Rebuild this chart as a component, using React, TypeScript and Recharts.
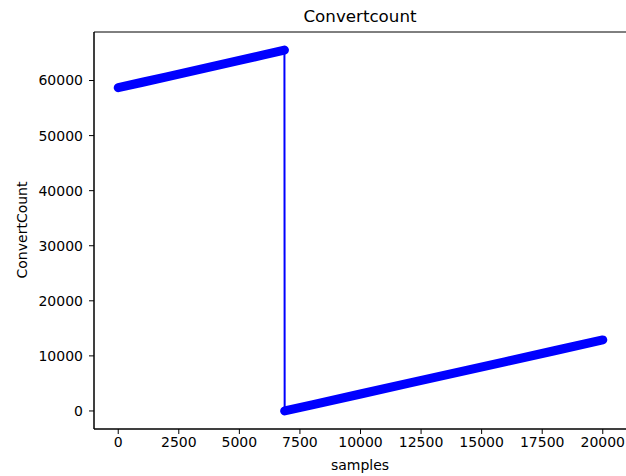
import React from "react";
import { LineChart, Line, XAxis, YAxis, ReferenceArea } from "recharts";

// counter readout: rises to 65535, wraps to 0, keeps counting
const seg1Samples = [0, 1000, 2000, 3000, 4000, 5000, 6000, 6860];
const seg1Counts = [58700, 59690, 60680, 61670, 62660, 63650, 64640, 65535];
const seg2Samples = [6870, 8000, 10000, 12000, 14000, 16000, 18000, 20000];
const seg2Counts = [0, 1110, 3080, 5040, 7000, 8960, 10930, 12900];

const xTicks = [0, 2500, 5000, 7500, 10000, 12500, 15000, 17500, 20000];
const yTicks = [0, 10000, 20000, 30000, 40000, 50000, 60000];

const X_DOMAIN: [number, number] = [-1000, 21000];
const Y_DOMAIN: [number, number] = [-3277, 68812];

const BLUE = "#0000ff";
const FONT = "'DejaVu Sans', sans-serif";

const toPoints = (xs: number[], ys: number[]) => xs.map((x, i) => ({ x, y: ys[i] }));

const seg1 = toPoints(seg1Samples, seg1Counts);
const seg2 = toPoints(seg2Samples, seg2Counts);
const all = [...seg1, ...seg2];

const tickStyle = { fontSize: 14, fill: "#000", fontFamily: FONT };

export default function App() {
  return (
    <div
      style={{
        position: "absolute",
        left: 0,
        top: 0,
        width: 626,
        height: 476,
        overflow: "hidden",
        background: "#fff",
        fontFamily: FONT,
      }}
    >
      <div
        style={{
          position: "absolute",
          left: 260,
          width: 200,
          top: 5,
          textAlign: "center",
          fontSize: 16.7,
          color: "#000",
          lineHeight: "22px",
        }}
      >
        Convertcount
      </div>
      <div
        style={{
          position: "absolute",
          left: 260,
          width: 200,
          top: 456,
          textAlign: "center",
          fontSize: 14,
          color: "#000",
          lineHeight: "18px",
        }}
      >
        samples
      </div>
      <div
        style={{
          position: "absolute",
          left: 22 - 100,
          top: 230 - 9,
          width: 200,
          textAlign: "center",
          fontSize: 14,
          color: "#000",
          lineHeight: "18px",
          transform: "rotate(-90deg)",
        }}
      >
        ConvertCount
      </div>
      <LineChart
        width={628}
        height={476}
        margin={{ top: 32, right: 1, bottom: 0, left: 0 }}
        style={{ position: "absolute", left: 0, top: 0 }}
      >
        <XAxis
          dataKey="x"
          type="number"
          domain={X_DOMAIN}
          ticks={xTicks}
          allowDataOverflow
          height={47}
          tick={tickStyle}
          tickSize={5}
          tickMargin={3}
          axisLine={{ stroke: "#000", strokeWidth: 1 }}
          tickLine={{ stroke: "#000", strokeWidth: 1 }}
        />
        <YAxis
          dataKey="y"
          type="number"
          domain={Y_DOMAIN}
          ticks={yTicks}
          allowDataOverflow
          width={94}
          tick={tickStyle}
          tickSize={5}
          tickMargin={6}
          axisLine={{ stroke: "#000", strokeWidth: 1 }}
          tickLine={{ stroke: "#000", strokeWidth: 1 }}
        />
        <ReferenceArea
          x1={X_DOMAIN[0]}
          x2={X_DOMAIN[1]}
          y1={Y_DOMAIN[0]}
          y2={Y_DOMAIN[1]}
          fill="none"
          stroke="#000"
          strokeWidth={1}
          ifOverflow="visible"
        />
        <Line
          data={all}
          dataKey="y"
          type="linear"
          stroke={BLUE}
          strokeWidth={2}
          dot={false}
          activeDot={false}
          isAnimationActive={false}
        />
        <Line
          data={seg1}
          dataKey="y"
          type="linear"
          stroke={BLUE}
          strokeWidth={9}
          strokeLinecap="round"
          strokeLinejoin="round"
          dot={false}
          activeDot={false}
          isAnimationActive={false}
        />
        <Line
          data={seg2}
          dataKey="y"
          type="linear"
          stroke={BLUE}
          strokeWidth={9}
          strokeLinecap="round"
          strokeLinejoin="round"
          dot={false}
          activeDot={false}
          isAnimationActive={false}
        />
      </LineChart>
    </div>
  );
}
